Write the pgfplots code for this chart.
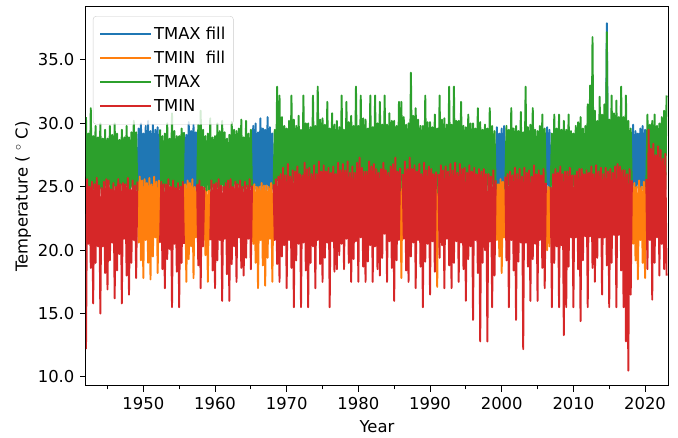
\documentclass[border=0pt]{standalone}
\usepackage{pgfplots}
\pgfplotsset{compat=1.18}
\usepackage{pgfplotstable}
\usepackage{fontspec}
\setmainfont{DejaVu Sans}
\definecolor{tabblue}{HTML}{1F77B4}
\definecolor{taborange}{HTML}{FF7F0E}
\definecolor{tabgreen}{HTML}{2CA02C}
\definecolor{tabred}{HTML}{D62728}
\newcommand\fs{\fontsize{16.4}{19.7}\selectfont}

% TMAX, 6 values per year from 1942.0 (x = 1942 + index/6)
\pgfplotstableread[row sep=\\]{t\\
30.5\\24.6\\29.2\\24.8\\31.2\\24.5\\
29.0\\24.7\\29.8\\24.5\\28.9\\24.8\\
30.0\\24.5\\28.8\\24.7\\29.5\\24.6\\
28.8\\24.9\\29.8\\24.6\\29.1\\24.7\\
30.0\\24.5\\29.2\\24.8\\28.7\\24.6\\
29.5\\24.8\\28.9\\24.5\\29.8\\24.7\\
28.9\\24.6\\29.3\\24.9\\30.2\\24.5\\
29.3\\24.7\\nan\\nan\\nan\\nan\\
nan\\nan\\nan\\nan\\nan\\nan\\
nan\\nan\\nan\\nan\\nan\\nan\\
nan\\nan\\29.5\\24.8\\29.0\\24.6\\
29.2\\24.6\\30.0\\24.7\\28.8\\24.9\\
30.8\\24.5\\29.4\\24.8\\29.0\\24.6\\
29.0\\24.7\\29.6\\24.5\\29.3\\nan\\
nan\\nan\\nan\\nan\\nan\\nan\\
nan\\nan\\nan\\24.8\\29.9\\24.6\\
31.0\\24.6\\29.5\\24.8\\29.0\\24.7\\
29.2\\24.8\\30.4\\24.5\\28.9\\24.6\\
29.0\\24.5\\30.0\\24.7\\29.4\\24.8\\
30.2\\24.7\\29.3\\24.6\\28.8\\24.5\\
29.1\\24.4\\30.1\\24.8\\29.5\\24.7\\
29.4\\24.8\\29.6\\24.5\\30.3\\24.6\\
28.9\\24.6\\30.2\\24.7\\29.2\\24.8\\
29.5\\24.6\\nan\\nan\\nan\\nan\\
nan\\nan\\nan\\nan\\nan\\nan\\
nan\\nan\\nan\\nan\\nan\\nan\\
nan\\24.8\\29.5\\24.7\\32.9\\24.9\\
32.2\\24.8\\30.5\\25.0\\29.8\\24.7\\
29.6\\24.6\\30.2\\24.9\\32.2\\24.8\\
30.3\\25.0\\29.8\\24.7\\30.6\\24.9\\
29.5\\24.7\\32.2\\24.8\\30.0\\24.6\\
30.0\\24.9\\29.7\\24.6\\32.2\\24.8\\
29.8\\24.6\\32.9\\24.9\\30.3\\24.7\\
30.4\\25.0\\29.9\\24.7\\31.7\\24.8\\
29.6\\24.5\\30.8\\24.8\\29.9\\24.6\\
30.2\\24.8\\29.7\\24.6\\32.2\\24.9\\
29.5\\24.6\\31.7\\24.9\\30.1\\24.7\\
30.6\\25.0\\29.8\\24.7\\32.9\\24.8\\
29.8\\24.7\\32.2\\24.6\\30.4\\24.9\\
30.3\\24.9\\29.6\\24.8\\32.2\\24.6\\
29.7\\24.6\\32.2\\24.9\\30.0\\24.7\\
31.7\\25.0\\29.9\\24.7\\32.2\\24.8\\
29.9\\24.8\\30.8\\24.6\\30.2\\24.9\\
30.2\\24.6\\29.8\\24.9\\31.7\\24.7\\
31.7\\24.9\\30.5\\24.7\\29.9\\24.8\\
30.0\\24.7\\34.0\\24.8\\30.6\\24.6\\
31.2\\25.0\\30.3\\24.7\\29.8\\24.9\\
29.8\\24.6\\32.2\\24.8\\30.1\\24.7\\
30.1\\24.8\\29.7\\24.6\\30.7\\24.9\\
29.6\\24.5\\32.2\\24.8\\30.3\\24.7\\
30.4\\24.9\\29.9\\24.7\\32.9\\24.6\\
29.9\\24.7\\32.9\\24.9\\30.2\\24.8\\
30.2\\24.6\\31.7\\24.8\\29.8\\24.7\\
29.7\\24.8\\30.7\\24.6\\30.0\\24.9\\
30.0\\24.5\\29.6\\24.9\\31.2\\24.7\\
30.1\\24.7\\29.5\\24.8\\29.9\\24.6\\
29.6\\24.6\\31.2\\24.8\\29.8\\24.7\\
29.4\\24.8\\nan\\nan\\nan\\nan\\
nan\\nan\\nan\\24.8\\29.8\\24.7\\
29.5\\24.7\\31.2\\24.9\\29.6\\24.8\\
29.8\\24.5\\29.4\\24.7\\30.9\\24.6\\
29.3\\24.8\\32.9\\24.6\\29.7\\24.9\\
29.9\\24.6\\31.2\\24.8\\29.5\\24.7\\
29.4\\24.9\\29.8\\24.7\\30.7\\24.6\\
29.6\\24.7\\nan\\nan\\nan\\24.8\\
29.2\\24.6\\30.7\\24.9\\29.6\\24.7\\
30.7\\24.8\\29.5\\24.6\\30.2\\24.9\\
29.5\\24.5\\30.7\\24.8\\29.4\\24.7\\
29.2\\24.7\\29.8\\24.6\\30.1\\24.8\\
30.5\\24.8\\29.6\\24.7\\29.8\\24.9\\
31.5\\24.6\\33.0\\24.8\\36.8\\24.7\\
31.0\\24.9\\30.2\\24.7\\32.1\\24.8\\
30.7\\24.7\\31.5\\24.8\\37.2\\24.9\\
30.3\\24.8\\32.2\\24.6\\30.8\\24.7\\
31.8\\24.6\\30.5\\24.9\\32.9\\24.8\\
30.5\\24.9\\32.2\\24.7\\30.2\\24.6\\
29.6\\24.7\\nan\\nan\\nan\\nan\\
nan\\nan\\nan\\nan\\nan\\nan\\
nan\\25.0\\30.7\\24.8\\29.9\\24.7\\
30.2\\24.8\\30.7\\24.9\\29.8\\24.6\\
30.0\\24.9\\30.5\\24.7\\31.0\\24.8\\
32.2\\
}\tmaxtab

% TMIN, 6 values per year from 1942.0
\pgfplotstableread[row sep=\\]{t\\
12.2\\25.6\\20.5\\25.0\\18.6\\25.4\\
15.8\\25.2\\19.0\\25.7\\20.3\\25.1\\
15.0\\24.9\\20.3\\25.4\\18.2\\25.6\\
16.9\\25.5\\19.2\\24.8\\20.6\\25.3\\
16.2\\25.0\\18.4\\25.6\\19.7\\25.2\\
15.8\\25.3\\20.9\\25.2\\18.0\\25.7\\
16.5\\24.8\\19.0\\25.5\\20.8\\25.1\\
17.8\\25.4\\nan\\nan\\nan\\nan\\
nan\\nan\\nan\\nan\\nan\\nan\\
nan\\nan\\nan\\nan\\nan\\nan\\
nan\\nan\\20.6\\25.4\\18.5\\25.2\\
17.0\\25.2\\19.3\\25.6\\20.1\\25.0\\
15.5\\25.5\\20.5\\24.9\\18.3\\25.3\\
15.5\\25.0\\19.0\\25.4\\20.5\\nan\\
nan\\nan\\nan\\nan\\nan\\nan\\
nan\\nan\\nan\\25.2\\18.8\\25.5\\
17.0\\25.0\\20.3\\25.0\\nan\\nan\\
nan\\nan\\20.8\\25.5\\18.4\\25.2\\
17.0\\25.3\\19.2\\25.6\\20.8\\25.1\\
16.0\\25.0\\20.9\\25.3\\18.1\\25.5\\
16.0\\25.6\\18.9\\25.0\\20.3\\25.4\\
17.5\\25.2\\21.0\\25.5\\18.6\\25.0\\
18.0\\25.4\\19.4\\25.1\\20.9\\25.6\\
18.5\\25.1\\nan\\nan\\nan\\nan\\
nan\\nan\\nan\\nan\\nan\\nan\\
nan\\nan\\nan\\nan\\nan\\nan\\
nan\\25.2\\20.8\\25.6\\18.9\\25.8\\
17.5\\26.0\\19.5\\26.5\\20.4\\25.9\\
17.0\\26.8\\20.8\\25.8\\18.6\\26.3\\
15.5\\26.2\\19.2\\26.6\\20.5\\26.0\\
15.5\\25.9\\20.6\\26.9\\18.4\\26.4\\
15.5\\26.5\\19.0\\26.0\\20.3\\26.7\\
17.0\\26.0\\20.8\\27.0\\18.9\\26.2\\
17.5\\26.7\\19.4\\26.2\\20.6\\26.5\\
15.5\\26.1\\20.7\\26.6\\18.3\\26.0\\
18.5\\26.9\\19.6\\26.3\\20.5\\26.8\\
18.5\\26.3\\20.9\\27.0\\19.0\\26.1\\
17.5\\26.6\\19.3\\26.1\\20.7\\26.9\\
17.5\\27.3\\21.0\\26.5\\18.7\\26.2\\
17.5\\26.2\\19.1\\27.0\\20.4\\26.6\\
17.5\\26.8\\20.3\\26.4\\18.5\\26.1\\
18.0\\26.4\\19.4\\26.9\\21.3\\26.3\\
17.5\\26.1\\20.7\\26.6\\18.6\\26.8\\
16.0\\27.3\\19.2\\26.2\\20.8\\26.5\\
nan\\26.0\\20.9\\27.0\\18.4\\26.4\\
17.5\\27.3\\19.5\\26.4\\20.6\\26.7\\
17.0\\26.2\\20.8\\26.8\\18.7\\26.0\\
15.5\\26.9\\19.1\\26.3\\20.5\\26.6\\
16.5\\26.4\\20.7\\26.0\\18.3\\26.2\\
nan\\26.0\\19.4\\26.7\\20.4\\26.3\\
17.0\\26.6\\20.9\\26.2\\18.8\\26.8\\
17.0\\26.3\\19.0\\26.9\\20.7\\26.1\\
17.5\\26.8\\20.6\\26.4\\18.5\\26.5\\
16.0\\26.1\\19.3\\26.7\\20.3\\26.2\\
14.5\\26.5\\20.8\\26.0\\18.2\\26.4\\
12.8\\26.2\\19.0\\26.4\\20.0\\26.0\\
12.8\\26.0\\20.7\\25.8\\15.5\\26.3\\
18.0\\25.5\\nan\\nan\\nan\\nan\\
nan\\nan\\nan\\25.8\\19.2\\26.0\\
15.5\\26.2\\20.8\\25.9\\18.4\\26.5\\
14.5\\26.0\\19.1\\26.4\\20.6\\25.8\\
12.2\\26.5\\20.6\\26.1\\18.7\\26.3\\
16.0\\25.8\\19.3\\26.7\\20.5\\26.0\\
16.0\\26.3\\20.8\\25.9\\18.6\\26.4\\
17.0\\25.3\\nan\\nan\\nan\\25.0\\
15.5\\26.0\\19.0\\26.4\\20.3\\26.1\\
15.5\\26.6\\20.4\\26.0\\13.3\\26.2\\
15.5\\26.2\\18.7\\26.5\\21.0\\25.9\\
15.5\\25.9\\21.0\\26.2\\18.5\\26.4\\
14.4\\26.4\\19.2\\26.0\\21.1\\26.3\\
15.5\\26.1\\21.1\\26.6\\18.6\\26.0\\
17.5\\26.7\\19.4\\26.2\\21.0\\26.5\\
16.5\\26.0\\21.0\\26.5\\18.8\\26.2\\
15.5\\26.4\\19.0\\26.1\\21.2\\26.6\\
15.5\\26.8\\21.2\\26.6\\18.4\\26.3\\
15.5\\26.3\\12.8\\26.0\\10.5\\26.4\\
16.5\\25.5\\nan\\nan\\nan\\nan\\
nan\\nan\\nan\\nan\\nan\\nan\\
nan\\25.6\\18.5\\29.5\\20.8\\28.0\\
16.1\\28.4\\19.0\\27.5\\21.0\\28.2\\
18.0\\27.9\\20.5\\27.2\\18.5\\27.6\\
18.0\\
}\tmintab

\begin{document}
\begin{tikzpicture}
\path[use as bounding box] (-86pt,-52pt) rectangle (592pt,386pt);
\begin{axis}[
  at={(0pt,0pt)}, anchor=south west,
  scale only axis, width=582pt, height=379pt,
  xmin=1942, xmax=2023.2, ymin=9.29, ymax=39.18,
  unbounded coords=jump,
  xtick={1950,1960,...,2020},
  minor xtick={1945,1955,...,2015},
  ytick={10,15,...,35},
  xtick pos=bottom, ytick pos=left,
  tick align=outside,
  major tick length=5.7pt, minor tick length=3.5pt,
  every tick/.style={black, line width=1pt},
  axis line style={line width=1pt},
  /pgf/number format/assume math mode=true,
  tick label style={font=\fs},
  xticklabel style={/pgf/number format/1000 sep={}, inner sep=0pt, anchor=north, yshift=-5.7pt},
  yticklabel style={/pgf/number format/fixed, /pgf/number format/fixed zerofill, /pgf/number format/precision=1, inner sep=0pt, anchor=east, xshift=-5.7pt},
  xlabel={Year},
  ylabel={Temperature ( $^\circ$ C)},
  every axis x label/.style={at={(axis description cs:0.5,-0.124)}, anchor=base, font=\fs, inner sep=0pt},
  every axis y label/.style={at={(axis description cs:-0.1082,0.5)}, rotate=90, anchor=center, font=\fs, inner sep=0pt},
  legend style={at={(0.012,0.976)}, anchor=north west, draw=black!20, rounded corners=3pt,
    fill=white, fill opacity=0.8, text opacity=1, draw opacity=1, font=\fs,
    inner xsep=6pt, inner ysep=9pt, row sep=6pt,
    nodes={inner sep=2pt, text height=12pt, text depth=2pt}},
  legend cell align=left,
  legend image code/.code={\draw[#1, line cap=butt] (0pt,0pt) -- (37pt,0pt); \path (0pt,0pt) -- (51pt,0pt);},
  every axis plot/.append style={line width=1.9pt, line join=round},
]
\addplot[tabblue] coordinates {
(1949.167,24.7) (1949.333,29.6) (1949.5,24.8) (1949.667,30.0) (1949.833,24.5)
(1950,29.2) (1950.167,24.7) (1950.333,29.8) (1950.5,24.5) (1950.667,30.2) (1950.833,24.9)
(1951,29.4) (1951.167,24.6) (1951.333,29.9) (1951.5,24.8) (1951.667,29.5) (1951.833,24.5)
(1952,29.7) (1952.167,24.7) (1952.333,29.5)
(1953,nan)
(1955.667,29.3) (1955.833,24.6) (1956,29.1) (1956.167,24.8) (1956.333,30.1) (1956.5,24.5)
(1956.667,29.4) (1956.833,24.7) (1957,29.9) (1957.167,24.6) (1957.333,29.3) (1957.5,24.8)
(1960,nan)
(1965.167,24.6) (1965.333,29.8) (1965.5,24.8) (1965.667,30.0) (1965.833,24.5)
(1966,29.3) (1966.167,24.7) (1966.333,30.4) (1966.5,24.6) (1966.667,29.6) (1966.833,24.9)
(1967,29.5) (1967.167,24.5) (1967.333,30.5) (1967.5,24.8) (1967.667,29.7) (1967.833,24.6)
(1968,29.2) (1968.167,24.8)
(1980,nan)
(1999.167,24.8) (1999.333,29.7) (1999.5,24.6) (1999.667,29.2) (1999.833,24.9)
(2000,29.6) (2000.167,24.6) (2000.333,29.8) (2000.5,24.8)
(2003,nan)
(2006.167,24.7) (2006.333,29.7) (2006.5,24.7) (2006.667,29.5) (2006.833,24.8)
(2010,nan)
(2014.5,24.8) (2014.667,37.9) (2014.833,24.9)
(2016,nan)
(2018.167,24.7) (2018.333,29.9) (2018.5,24.6) (2018.667,29.4) (2018.833,24.9)
(2019,29.2) (2019.167,24.6) (2019.333,29.6) (2019.5,24.8) (2019.667,29.8) (2019.833,24.5)
(2020,29.5) (2020.167,25.0)
};
\addplot[taborange] coordinates {
(1949.167,25.4) (1949.333,20.6) (1949.5,25.8) (1949.667,19.2) (1949.833,25.5)
(1950,17.8) (1950.167,25.6) (1950.333,20.8) (1950.5,25.3) (1950.667,19.0) (1950.833,25.7)
(1951,17.7) (1951.167,25.2) (1951.333,19.5) (1951.5,25.8) (1951.667,21.0) (1951.833,25.4)
(1952,18.2) (1952.167,25.5) (1952.333,20.6)
(1953,nan)
(1955.667,20.5) (1955.833,25.2) (1956,17.5) (1956.167,25.5) (1956.333,19.3) (1956.5,25.3)
(1956.667,20.3) (1956.833,25.6) (1957,17.8) (1957.167,25.0) (1957.333,21.0) (1957.5,25.2)
(1958,nan)
(1958.5,25.0) (1958.667,19.6) (1958.833,25.2) (1959,17.5) (1959.167,25.0) (1959.333,20.8)
(1960,nan)
(1965.167,25.1) (1965.333,20.5) (1965.5,25.2) (1965.667,19.0) (1965.833,25.0)
(1966,17.0) (1966.167,25.0) (1966.333,20.8) (1966.5,25.3) (1966.667,18.8) (1966.833,25.1)
(1967,17.2) (1967.167,25.1) (1967.333,19.4) (1967.5,25.0) (1967.667,20.9) (1967.833,25.3)
(1968,17.5) (1968.167,25.2)
(1970,nan)
(1985.833,26.5) (1986,17.8) (1986.167,26.0)
(1988,nan)
(1990.833,26.2) (1991,17.1) (1991.167,26.0)
(1995,nan)
(1999.167,25.5) (1999.333,20.8) (1999.5,25.2) (1999.667,19.5) (1999.833,25.6)
(2000,18.2) (2000.167,25.4) (2000.333,21.0) (2000.5,25.8)
(2003,nan)
(2006.167,25.3) (2006.333,20.0) (2006.5,25.0) (2006.667,20.3) (2006.833,25.0)
(2010,nan)
(2018.167,25.5) (2018.333,20.5) (2018.5,25.3) (2018.667,19.2) (2018.833,25.0)
(2019,17.7) (2019.167,25.5) (2019.333,20.8) (2019.5,25.0) (2019.667,19.0) (2019.833,25.4)
(2020,17.8) (2020.167,25.6)
};
\addplot[tabgreen] table[x expr=1942+\coordindex/6, y=t] {\tmaxtab};
\addplot[tabred] table[x expr=1942+\coordindex/6, y=t] {\tmintab};
\legend{TMAX fill, TMIN\ \ fill, TMAX, TMIN}
\end{axis}
\end{tikzpicture}
\end{document}
